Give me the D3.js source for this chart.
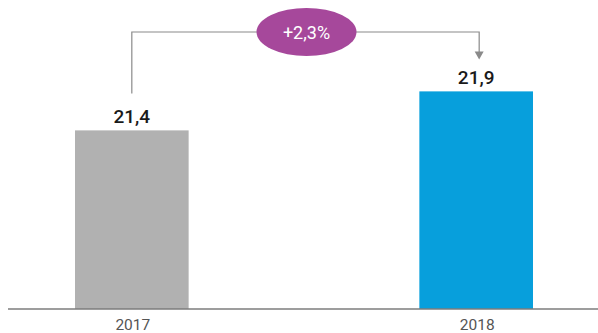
<!DOCTYPE html>
<html>
<head>
<meta charset="utf-8">
<script src="https://cdn.jsdelivr.net/npm/d3@7"></script>
<style>
  html, body { margin: 0; padding: 0; background: #fff; }
  svg { display: block; }
</style>
</head>
<body>
<svg id="chart" width="598" height="333"></svg>
<script>
// Data
const years = ["2017", "2018"];
const values = [21.4, 21.9];
const valueLabels = ["21,4", "21,9"];
const barColors = ["#b1b1b1", "#079fdc"];
const changeLabel = "+2,3%";

const svg = d3.select("#chart");
const W = 598, H = 333;
const baseY = 309;

const x = d3.scaleBand()
  .domain(years)
  .range([75, 533])
  .paddingInner(0.67)
  .paddingOuter(0);

// Value axis is truncated so the difference is visible
const y = d3.scaleLinear()
  .domain([19.11, 22])
  .range([baseY, baseY - 78 * 2.89]);

const data = years.map((yr, i) => ({ year: yr, value: values[i], label: valueLabels[i], color: barColors[i] }));

// Bars
svg.selectAll("rect.bar")
  .data(data)
  .join("rect")
  .attr("class", "bar")
  .attr("x", d => x(d.year))
  .attr("width", x.bandwidth())
  .attr("y", d => y(d.value))
  .attr("height", d => baseY - y(d.value))
  .attr("fill", d => d.color);

// Baseline
svg.append("line")
  .attr("x1", 8).attr("x2", W)
  .attr("y1", baseY).attr("y2", baseY)
  .attr("stroke", "#7d7d7d")
  .attr("stroke-width", 1.5);

// Category labels
svg.selectAll("text.cat")
  .data(data)
  .join("text")
  .attr("class", "cat")
  .attr("x", d => x(d.year) + x.bandwidth() / 2 + 1)
  .attr("y", 330)
  .attr("text-anchor", "middle")
  .attr("font-family", "Roboto, sans-serif")
  .attr("font-size", 15.5)
  .attr("fill", "#555")
  .text(d => d.year);

// Value labels
svg.selectAll("text.val")
  .data(data)
  .join("text")
  .attr("class", "val")
  .attr("x", d => x(d.year) + x.bandwidth() / 2)
  .attr("y", d => y(d.value) - 7.5)
  .attr("text-anchor", "middle")
  .attr("font-family", "Roboto, sans-serif")
  .attr("font-weight", 500)
  .attr("font-size", 19)
  .attr("fill", "#1a1a1a")
  .text(d => d.label);

// Connector between the two bars with an arrow into 2018
const x0 = x(years[0]) + x.bandwidth() / 2;
const x1 = x(years[1]) + x.bandwidth() / 2 + 3;
const topY = 32;
const startY = y(values[0]) - 37;
const tipY = y(values[1]) - 32;

svg.append("path")
  .attr("d", `M${x0},${startY} V${topY} H${x1} V${tipY - 7}`)
  .attr("fill", "none")
  .attr("stroke", "#8a8a8a")
  .attr("stroke-width", 1.2);

svg.append("path")
  .attr("d", `M${x1 - 4.5},${tipY - 8} L${x1 + 4.5},${tipY - 8} L${x1},${tipY} Z`)
  .attr("fill", "#8a8a8a");

// Change badge
const cx = (x0 + x1) / 2 + 1;
svg.append("ellipse")
  .attr("cx", cx).attr("cy", topY)
  .attr("rx", 50).attr("ry", 24)
  .attr("fill", "#a6489b");

svg.append("text")
  .attr("x", cx).attr("y", topY + 6.5)
  .attr("text-anchor", "middle")
  .attr("font-family", "Roboto, sans-serif")
  .attr("font-size", 18)
  .attr("fill", "#fff")
  .text(changeLabel);
</script>
</body>
</html>
